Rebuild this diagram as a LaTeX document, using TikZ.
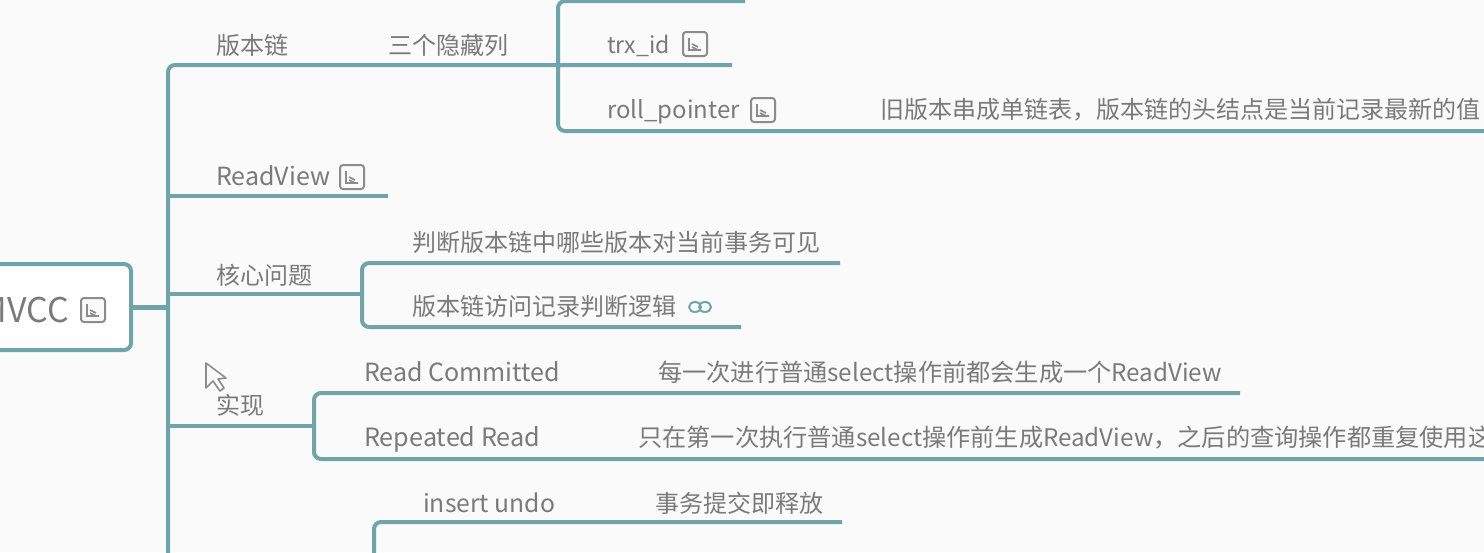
\documentclass[tikz,border=0pt]{standalone}
\usepackage{fontspec}
\setmainfont{Noto Sans CJK SC}
\definecolor{bgc}{HTML}{FAFAFA}
\definecolor{linec}{HTML}{6FA5AA}
\definecolor{txtc}{HTML}{7A7A7A}
\definecolor{iconc}{HTML}{8C8C8C}
\newcommand{\fsz}[1]{\fontsize{#1}{#1}\selectfont}
\tikzset{
  lab/.style={inner sep=0pt,anchor=west,text=txtc,font=\fsz{24}},
  conn/.style={draw=linec,line width=4pt,rounded corners=7pt},
  thin conn/.style={conn,line width=3.4pt},
  noteicon/.pic={
    \draw[iconc,line width=2pt,rounded corners=3pt,fill=bgc] (-12,-12) rectangle (12,12);
    \draw[iconc,line width=1.6pt] (-6,-6)--(-6,6)--(6,6) (-3,0)--(3,3) (-3,3)--(3,6);
  }
}
\begin{document}
\begin{tikzpicture}[x=1pt,y=-1pt]
\useasboundingbox (0,0) rectangle (1484,552);
\clip (0,0) rectangle (1484,552);
\fill[bgc] (0,0) rectangle (1484,552);

% coordinates
\coordinate (tTop) at (168,65);
\coordinate (tBot) at (168,560);
\coordinate (tRoot) at (168,307);
\coordinate (tRV) at (168,196);
\coordinate (tCore) at (168,294);
\coordinate (tImpl) at (168,426);
\coordinate (vTop) at (558,65);
\coordinate (vTopA) at (745,1);
\coordinate (vTopB) at (732,65);
\coordinate (vTopC) at (1490,131);
\coordinate (rvEnd) at (388,196);
\coordinate (cCore) at (362,294);
\coordinate (cA) at (840,263);
\coordinate (cB) at (741,327);
\coordinate (iImpl) at (314,426);
\coordinate (iA) at (1240,393);
\coordinate (iB) at (1490,459);
\coordinate (uA) at (842,522);
\coordinate (uBot) at (374,560);

% root
\node[draw=linec,line width=4pt,rounded corners=7pt,fill=white,minimum width=160pt,minimum height=86pt,inner sep=0pt] (root) at (51,307) {};
\node[inner sep=0pt,anchor=east,text=txtc,font=\fsz{34}] (rootlab) at (69,310) {MVCC};
\pic at (93,310) {noteicon};

% connectors
\draw[conn,line width=5pt] (root.east) -- (tRoot);
\draw[conn] (tBot) -- (tTop) -- (vTop) -- (vTopB);
\draw[thin conn] (tRV) -- (rvEnd);
\draw[thin conn] (tCore) -- (cCore);
\draw[thin conn] (tImpl) -- (iImpl);
\draw[conn] (vTopA) -- (558,1) -- (558,131) -- (vTopC);
\draw[conn] (cA) -- (362,263) -- (362,327) -- (cB);
\draw[conn] (iA) -- (314,393) -- (314,459) -- (iB);
\draw[conn] (uA) -- (374,522) -- (uBot);

% labels
\node[lab] (n1) at (216,45) {版本链};
\node[lab] (n2) at (388,45) {三个隐藏列};
\node[lab,font=\fsz{23}] (n3) at (607,46) {trx\_id};
\pic at (695,44) {noteicon};
\node[lab] (n4) at (607,112) {roll\_pointer};
\pic at (763,110) {noteicon};
\node[lab] (n5) at (880,110) {旧版本串成单链表，版本链的头结点是当前记录最新的值};
\node[lab,font=\fsz{25}] (n6) at (216,176) {ReadView};
\pic at (352,177) {noteicon};
\node[lab] (n7) at (216,275) {核心问题};
\node[lab] (n8) at (412,242) {判断版本链中哪些版本对当前事务可见};
\node[lab] (n9) at (412,306) {版本链访问记录判断逻辑};
\node[lab] (n10) at (216,405) {实现};
\node[lab,font=\fsz{25}] (n11) at (364,372) {Read Committed};
\node[lab,font=\fsz{24.2}] (n12) at (658,372) {每一次进行普通select操作前都会生成一个ReadView};
\node[lab,font=\fsz{25.2}] (n13) at (364,439) {Repeated Read};
\node[lab,font=\fsz{24.2}] (n14) at (638,438) {只在第一次执行普通select操作前生成ReadView，之后的查询操作都重复使用这};
\node[lab,font=\fsz{24.7}] (n15) at (423,503) {insert undo};
\node[lab] (n16) at (655,503) {事务提交即释放};

% link icon
\draw[linec,line width=2pt] (695,307) circle[x radius=6,y radius=5] (705,307) circle[x radius=6,y radius=5];

% cursor
\draw[iconc,line width=1.6pt,fill=bgc,line join=round] (206,363) -- (206,388) -- (213,381) -- (220,391) -- (224,388) -- (218,379) -- (226,378) -- cycle;
\end{tikzpicture}
\end{document}
